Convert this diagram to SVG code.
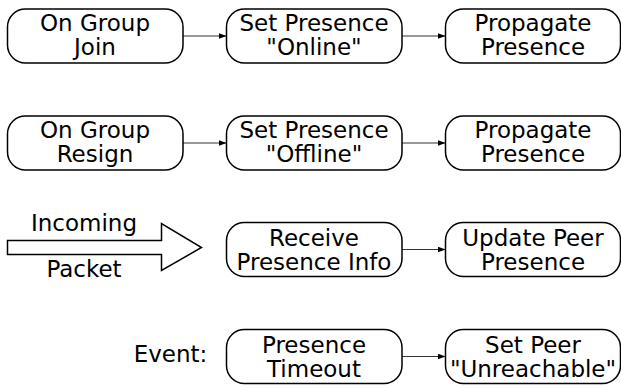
<svg xmlns="http://www.w3.org/2000/svg" width="621" height="387" viewBox="0 0 621 387">
<style>
.box{fill:#fff;stroke:#000;stroke-width:1.5}
.t{font-family:"DejaVu Sans",sans-serif;font-size:23px;fill:#000;text-anchor:middle}
.e{stroke:#333;stroke-width:1.2;fill:none}
</style>
<defs>
<marker id="ah" markerWidth="8" markerHeight="6" refX="7.5" refY="3" orient="auto" markerUnits="userSpaceOnUse">
<path d="M0,0 L8,3 L0,6 z" fill="#000"/>
</marker>
</defs>
<rect width="621" height="387" fill="#fff"/>
<g id="connectors">
<line class="e" x1="183" y1="36" x2="226" y2="36" marker-end="url(#ah)"/>
<line class="e" x1="402" y1="36" x2="445" y2="36" marker-end="url(#ah)"/>
<line class="e" x1="183" y1="143" x2="226" y2="143" marker-end="url(#ah)"/>
<line class="e" x1="402" y1="143" x2="445" y2="143" marker-end="url(#ah)"/>
<line class="e" x1="402" y1="249.5" x2="445" y2="249.5" marker-end="url(#ah)"/>
<line class="e" x1="402" y1="356.5" x2="445" y2="356.5" marker-end="url(#ah)"/>
</g>
<g id="n1"><rect class="box" x="7.5" y="9" width="175.5" height="54" rx="18"/><text class="t" x="95" y="31">On Group</text><text class="t" x="95" y="55">Join</text></g>
<g id="n2"><rect class="box" x="226.5" y="9" width="175.5" height="54" rx="18"/><text class="t" x="314" y="31">Set Presence</text><text class="t" x="314" y="55">"Online"</text></g>
<g id="n3"><rect class="box" x="445.5" y="9" width="175" height="54" rx="18"/><text class="t" x="533" y="31">Propagate</text><text class="t" x="533" y="55">Presence</text></g>
<g id="n4"><rect class="box" x="7.5" y="116" width="175.5" height="54" rx="18"/><text class="t" x="95" y="138">On Group</text><text class="t" x="95" y="162">Resign</text></g>
<g id="n5"><rect class="box" x="226.5" y="116" width="175.5" height="54" rx="18"/><text class="t" x="314" y="138">Set Presence</text><text class="t" x="314" y="162">"Offline"</text></g>
<g id="n6"><rect class="box" x="445.5" y="116" width="175" height="54" rx="18"/><text class="t" x="533" y="138">Propagate</text><text class="t" x="533" y="162">Presence</text></g>
<g id="n7"><path d="M7.5,240.5 L161.5,240.5 L161.5,223.5 L201.5,247.5 L161.5,270.5 L161.5,254.5 L7.5,254.5 Z" fill="#fff" stroke="#000" stroke-width="1.5"/><text class="t" x="84" y="230.5">Incoming</text><text class="t" x="84" y="277">Packet</text></g>
<g id="n8"><rect class="box" x="226.5" y="222.5" width="175.5" height="54" rx="18"/><text class="t" x="314" y="246">Receive</text><text class="t" x="314" y="270">Presence Info</text></g>
<g id="n9"><rect class="box" x="445.5" y="222.5" width="175" height="54" rx="18"/><text class="t" x="533" y="246">Update Peer</text><text class="t" x="533" y="270">Presence</text></g>
<g id="n10"><text class="t" x="170.5" y="362">Event:</text></g>
<g id="n11"><rect class="box" x="226.5" y="329.5" width="175.5" height="54" rx="18"/><text class="t" x="314" y="353">Presence</text><text class="t" x="314" y="377">Timeout</text></g>
<g id="n12"><rect class="box" x="445.5" y="329.5" width="175" height="54" rx="18"/><text class="t" x="533" y="353">Set Peer</text><text class="t" x="533" y="377">"Unreachable"</text></g>
</svg>
